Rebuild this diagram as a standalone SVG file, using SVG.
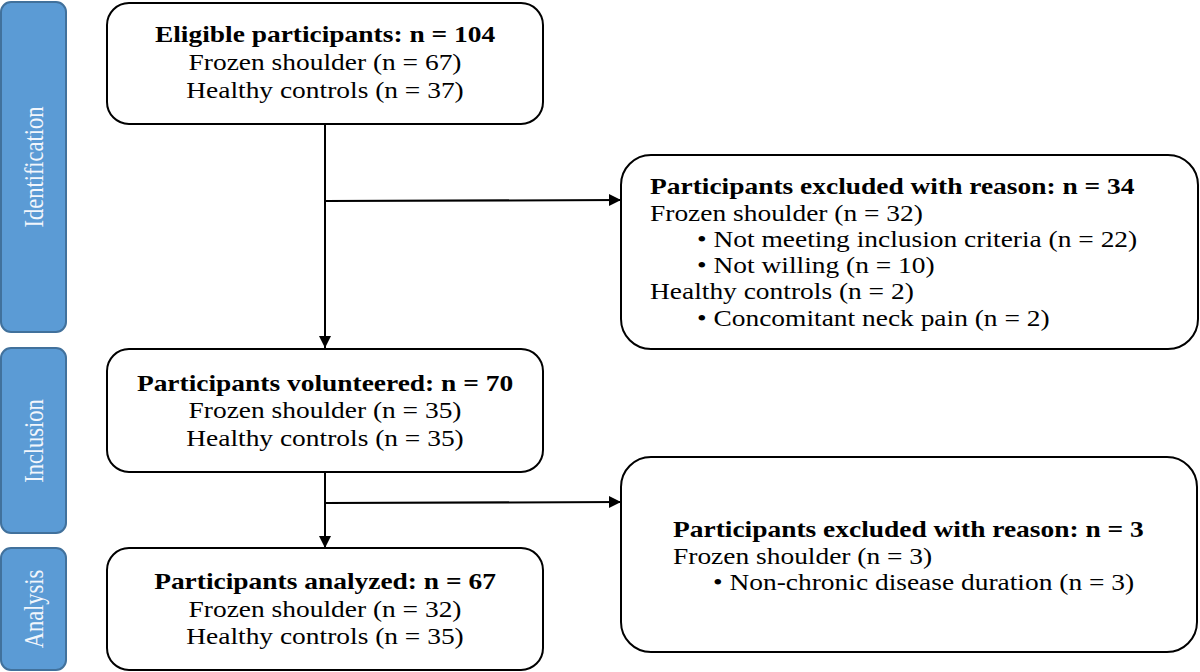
<svg xmlns="http://www.w3.org/2000/svg" width="1200" height="672" viewBox="0 0 1200 672">
<style>
.t{font-family:"Liberation Serif","Times New Roman",serif;font-size:22.5px;fill:#000}
.b{font-weight:bold}
.m{text-anchor:middle}
.phase{fill:#5B9BD5;stroke:#41719C;stroke-width:2}
.pt{font-family:"Liberation Serif","Times New Roman",serif;font-size:22.5px;fill:#F2F6FC;text-anchor:middle}
.box{fill:#fff;stroke:#000;stroke-width:2}
.conn{stroke:#000;stroke-width:2;fill:none}
</style>
<defs>
<marker id="arr" markerUnits="userSpaceOnUse" markerWidth="14" markerHeight="14" refX="12" refY="7" orient="auto">
<path d="M0,1 L12,7 L0,13 Z" fill="#000"/>
</marker>
</defs>
<rect width="1200" height="672" fill="#fff"/>
<g id="phase-identification">
<rect class="phase" x="1" y="2" width="65" height="330" rx="10"/>
<text class="pt" transform="translate(43,167) scale(1.22,1) rotate(-90)">Identification</text>
</g>
<g id="phase-inclusion">
<rect class="phase" x="1" y="348" width="65" height="185" rx="10"/>
<text class="pt" transform="translate(43,441) scale(1.22,1) rotate(-90)">Inclusion</text>
</g>
<g id="phase-analysis">
<rect class="phase" x="1" y="548" width="65" height="122" rx="10"/>
<text class="pt" transform="translate(43,609) scale(1.22,1) rotate(-90)">Analysis</text>
</g>
<g id="connectors">
<line class="conn" x1="325" y1="124" x2="325" y2="348" marker-end="url(#arr)"/>
<line class="conn" x1="325" y1="201" x2="621" y2="200" marker-end="url(#arr)"/>
<line class="conn" x1="325" y1="472" x2="325" y2="548" marker-end="url(#arr)"/>
<line class="conn" x1="325" y1="503" x2="621" y2="502" marker-end="url(#arr)"/>
</g>
<g id="eligible">
<rect class="box" x="107" y="3" width="436" height="121" rx="22"/>
<text class="t b m" transform="translate(325,42) scale(1.22,1)">Eligible participants: n = 104</text>
<text class="t m" transform="translate(325,70) scale(1.22,1)">Frozen shoulder (n = 67)</text>
<text class="t m" transform="translate(325,98) scale(1.22,1)">Healthy controls (n = 37)</text>
</g>
<g id="excluded-1">
<rect class="box" x="621" y="155" width="577" height="194" rx="30"/>
<text class="t b" transform="translate(650,194) scale(1.22,1)">Participants excluded with reason: n = 34</text>
<text class="t" transform="translate(650,221) scale(1.22,1)">Frozen shoulder (n = 32)</text>
<text class="t" transform="translate(697,247) scale(1.22,1)">• Not meeting inclusion criteria (n = 22)</text>
<text class="t" transform="translate(697,273) scale(1.22,1)">• Not willing (n = 10)</text>
<text class="t" transform="translate(650,299) scale(1.22,1)">Healthy controls (n = 2)</text>
<text class="t" transform="translate(697,326) scale(1.22,1)">• Concomitant neck pain (n = 2)</text>
</g>
<g id="volunteered">
<rect class="box" x="107" y="349" width="436" height="123" rx="22"/>
<text class="t b m" transform="translate(325,391) scale(1.22,1)">Participants volunteered: n = 70</text>
<text class="t m" transform="translate(325,418) scale(1.22,1)">Frozen shoulder (n = 35)</text>
<text class="t m" transform="translate(325,446) scale(1.22,1)">Healthy controls (n = 35)</text>
</g>
<g id="excluded-2">
<rect class="box" x="621" y="457" width="576" height="195" rx="30"/>
<text class="t b" transform="translate(673,537) scale(1.22,1)">Participants excluded with reason: n = 3</text>
<text class="t" transform="translate(673,564) scale(1.22,1)">Frozen shoulder (n = 3)</text>
<text class="t" transform="translate(713,590) scale(1.22,1)">• Non-chronic disease duration (n = 3)</text>
</g>
<g id="analyzed">
<rect class="box" x="107" y="548" width="436" height="122" rx="22"/>
<text class="t b m" transform="translate(325,589) scale(1.22,1)">Participants analyzed: n = 67</text>
<text class="t m" transform="translate(325,617) scale(1.22,1)">Frozen shoulder (n = 32)</text>
<text class="t m" transform="translate(325,644) scale(1.22,1)">Healthy controls (n = 35)</text>
</g>
</svg>
